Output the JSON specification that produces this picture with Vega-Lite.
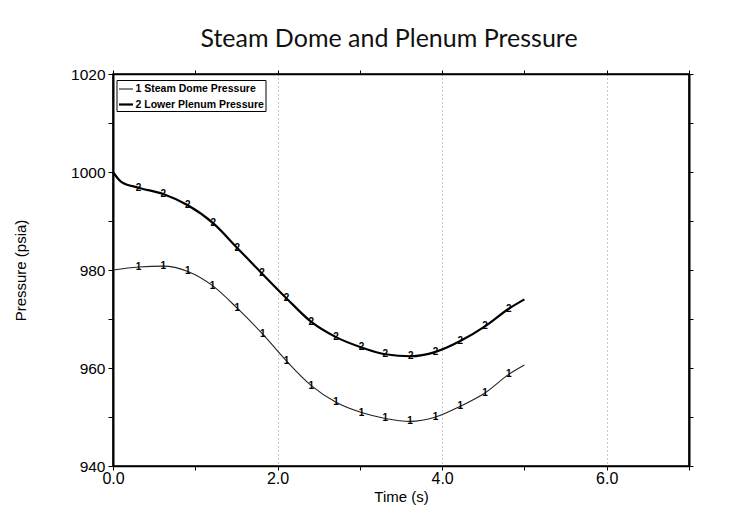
{
  "$schema": "https://vega.github.io/schema/vega-lite/v6.json",
  "autosize": {"type": "none"},
  "width": 576,
  "height": 392,
  "padding": {"left": 113, "top": 74, "right": 57, "bottom": 52},
  "background": "white",
  "title": {
    "text": "Steam Dome and Plenum Pressure",
    "font": "Lato",
    "fontSize": 25,
    "fontWeight": "normal",
    "color": "#111",
    "anchor": "middle",
    "dx": -12,
    "offset": 15
  },
  "config": {
    "view": {"stroke": "black", "strokeWidth": 1.5},
    "axis": {
      "labelFont": "Liberation Sans",
      "titleFont": "Liberation Sans",
      "labelColor": "black",
      "titleColor": "black",
      "tickColor": "black",
      "domainColor": "black",
      "titleFontWeight": "normal",
      "labelFlush": false
    }
  },
  "data": {
    "values": [
      {"series": "1 Steam Dome Pressure", "t": 0.0, "p": 980.0},
      {"series": "1 Steam Dome Pressure", "t": 0.31, "p": 980.6},
      {"series": "1 Steam Dome Pressure", "t": 0.61, "p": 980.8},
      {"series": "1 Steam Dome Pressure", "t": 0.91, "p": 979.7},
      {"series": "1 Steam Dome Pressure", "t": 1.21, "p": 976.8},
      {"series": "1 Steam Dome Pressure", "t": 1.51, "p": 972.2},
      {"series": "1 Steam Dome Pressure", "t": 1.82, "p": 966.9},
      {"series": "1 Steam Dome Pressure", "t": 2.11, "p": 961.4},
      {"series": "1 Steam Dome Pressure", "t": 2.41, "p": 956.4},
      {"series": "1 Steam Dome Pressure", "t": 2.71, "p": 953.0},
      {"series": "1 Steam Dome Pressure", "t": 3.02, "p": 950.9},
      {"series": "1 Steam Dome Pressure", "t": 3.31, "p": 949.7},
      {"series": "1 Steam Dome Pressure", "t": 3.61, "p": 949.1},
      {"series": "1 Steam Dome Pressure", "t": 3.92, "p": 950.0},
      {"series": "1 Steam Dome Pressure", "t": 4.22, "p": 952.2},
      {"series": "1 Steam Dome Pressure", "t": 4.52, "p": 954.9},
      {"series": "1 Steam Dome Pressure", "t": 4.81, "p": 958.7},
      {"series": "1 Steam Dome Pressure", "t": 5.0, "p": 960.6},
      {"series": "2 Lower Plenum Pressure", "t": 0.0, "p": 1000.0},
      {"series": "2 Lower Plenum Pressure", "t": 0.1, "p": 998.0},
      {"series": "2 Lower Plenum Pressure", "t": 0.31, "p": 996.8},
      {"series": "2 Lower Plenum Pressure", "t": 0.61, "p": 995.5},
      {"series": "2 Lower Plenum Pressure", "t": 0.91, "p": 993.2},
      {"series": "2 Lower Plenum Pressure", "t": 1.22, "p": 989.5},
      {"series": "2 Lower Plenum Pressure", "t": 1.51, "p": 984.5},
      {"series": "2 Lower Plenum Pressure", "t": 1.81, "p": 979.3},
      {"series": "2 Lower Plenum Pressure", "t": 2.11, "p": 974.2},
      {"series": "2 Lower Plenum Pressure", "t": 2.41, "p": 969.4},
      {"series": "2 Lower Plenum Pressure", "t": 2.71, "p": 966.3},
      {"series": "2 Lower Plenum Pressure", "t": 3.02, "p": 964.2},
      {"series": "2 Lower Plenum Pressure", "t": 3.31, "p": 962.8},
      {"series": "2 Lower Plenum Pressure", "t": 3.62, "p": 962.4},
      {"series": "2 Lower Plenum Pressure", "t": 3.92, "p": 963.3},
      {"series": "2 Lower Plenum Pressure", "t": 4.22, "p": 965.5},
      {"series": "2 Lower Plenum Pressure", "t": 4.52, "p": 968.5},
      {"series": "2 Lower Plenum Pressure", "t": 4.81, "p": 972.1},
      {"series": "2 Lower Plenum Pressure", "t": 5.0, "p": 974.0}
    ]
  },
  "resolve": {"axis": {"x": "independent", "y": "independent"}},
  "layer": [
    {
      "mark": {"type": "line", "interpolate": "monotone"},
      "encoding": {
        "x": {
          "field": "t", "type": "quantitative",
          "scale": {"domain": [0, 7], "nice": false, "zero": false},
          "axis": {
            "title": "Time (s)",
            "titleFontSize": 15,
            "titlePadding": 3,
            "values": [0, 1, 2, 3, 4, 5, 6, 7],
            "labelExpr": "datum.value % 2 == 0 && datum.value < 7 ? format(datum.value, '.1f') : ''",
            "labelFontSize": 16,
            "labelPadding": 0,
            "tickSize": 4,
            "domainWidth": 1.5,
            "grid": true,
            "gridColor": "#888",
            "gridDash": [1, 3],
            "gridOpacity": {"condition": {"test": "datum.value == 2 || datum.value == 4 || datum.value == 6", "value": 0.9}, "value": 0}
          }
        },
        "y": {
          "field": "p", "type": "quantitative",
          "scale": {"domain": [940, 1020], "nice": false, "zero": false},
          "axis": {
            "title": "Pressure (psia)",
            "titleFontSize": 15,
            "titlePadding": 42,
            "values": [940, 950, 960, 970, 980, 990, 1000, 1010, 1020],
            "labelExpr": "datum.value % 20 == 0 ? datum.value : ''",
            "labelFontSize": 15.5,
            "labelPadding": 3,
            "tickSize": 5,
            "domainWidth": 2,
            "grid": false
          }
        },
        "color": {
          "field": "series", "type": "nominal",
          "scale": {"range": ["#222", "#000"]},
          "legend": {
            "title": null,
            "orient": "none",
            "legendX": 3.5,
            "legendY": 6,
            "strokeColor": "black",
            "fillColor": "white",
            "padding": 1,
            "rowPadding": 1,
            "symbolType": "stroke",
            "symbolSize": 196,
            "symbolStrokeWidth": 1.2,
            "labelFont": "Liberation Sans",
            "labelFontSize": 10.5,
            "labelFontWeight": "bold",
            "labelOffset": 1,
            "labelColor": "black"
          }
        },
        "strokeWidth": {
          "field": "series", "type": "nominal",
          "scale": {"range": [1.1, 2.2]},
          "legend": null
        }
      }
    },
    {
      "transform": [{"filter": "datum.t > 0.2 && datum.t < 4.9"}],
      "mark": {"type": "text", "fontSize": 10, "fontWeight": "bold", "font": "Liberation Sans", "color": "black"},
      "encoding": {
        "x": {
          "field": "t", "type": "quantitative",
          "axis": {
            "orient": "top", "title": null, "labels": false,
            "values": [0, 1, 2, 3, 4, 5, 6, 7],
            "tickSize": 4, "domainWidth": 1.5, "grid": false
          }
        },
        "y": {
          "field": "p", "type": "quantitative",
          "axis": {
            "orient": "right", "title": null, "labels": false,
            "values": [940, 950, 960, 970, 980, 990, 1000, 1010, 1020],
            "tickSize": 4, "domainWidth": 2, "grid": false
          }
        },
        "text": {"condition": {"test": "datum.series[0] == '1'", "value": "1"}, "value": "2"}
      }
    }
  ]
}
